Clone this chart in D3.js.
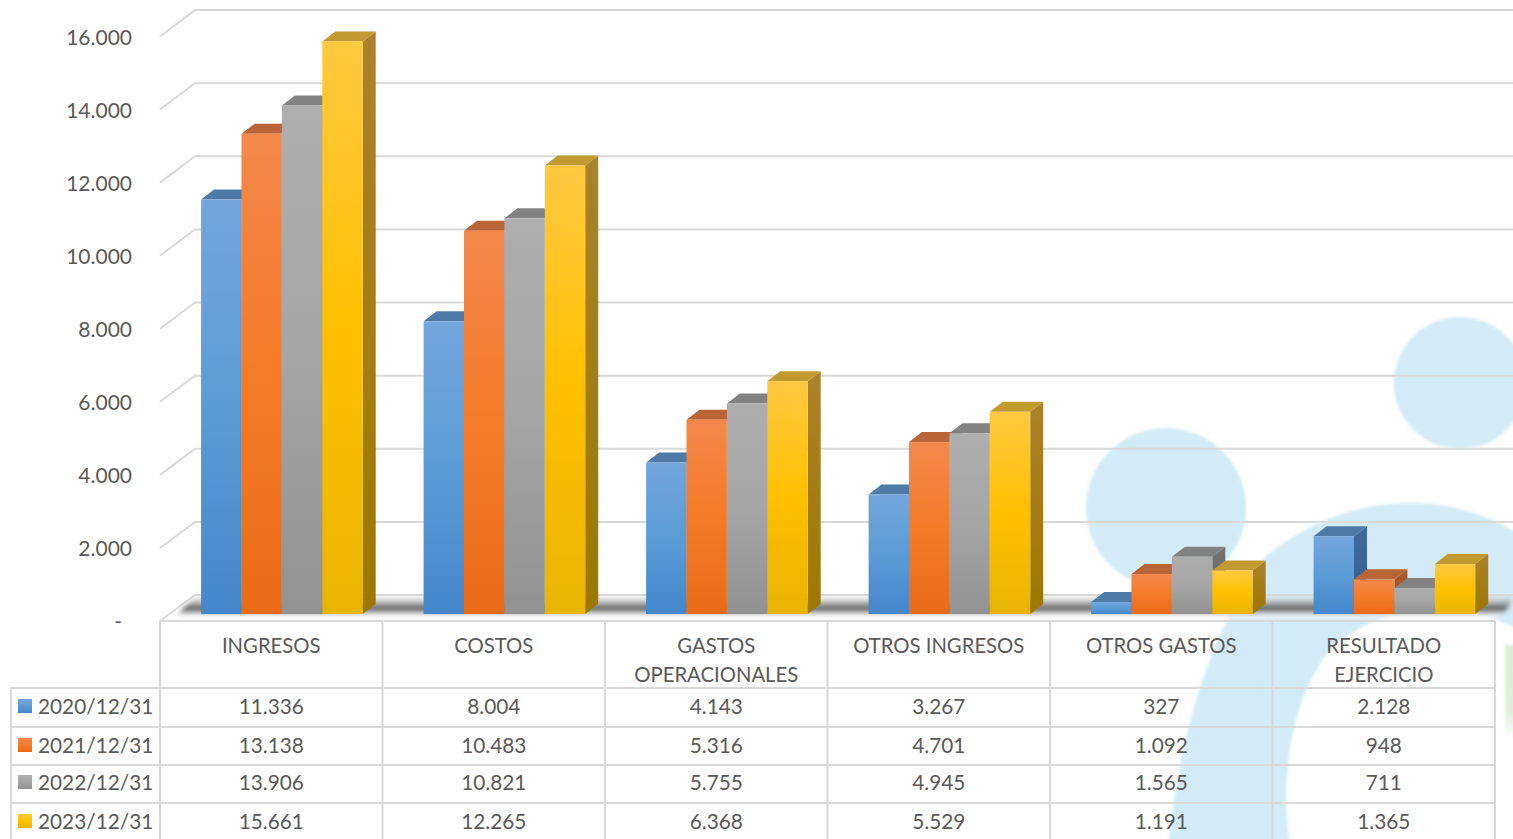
<!DOCTYPE html>
<html><head><meta charset="utf-8">
<script src="https://cdnjs.cloudflare.com/ajax/libs/d3/7.8.5/d3.min.js"></script>
<style>html,body{margin:0;padding:0;background:#fff;overflow:hidden}svg{display:block}text{font-family:Lato,"Open Sans",sans-serif;fill:#595959}</style>
</head><body><svg id="c" width="1513" height="839"></svg>
<script>
const categories=[["INGRESOS"],["COSTOS"],["GASTOS","OPERACIONALES"],["OTROS INGRESOS"],["OTROS GASTOS"],["RESULTADO","EJERCICIO"]];
const seriesNames=["2020/12/31","2021/12/31","2022/12/31","2023/12/31"];
const v2020=[11336,8004,4143,3267,327,2128];
const v2021=[13138,10483,5316,4701,1092,948];
const v2022=[13906,10821,5755,4945,1565,711];
const v2023=[15661,12265,6368,5529,1191,1365];
const seriesValues=[v2020,v2021,v2022,v2023];
const yTicks=[0,2000,4000,6000,8000,10000,12000,14000,16000];
const frontStops=[["#74a6dd","#5b9bd5","#4487cb"],["#f4884c","#f47b28","#e96a17"],["#aeaeae","#a5a5a5","#929292"],["#ffc941","#ffc000","#e8b402"]];
const topColors=["#4e7aa8","#ba6538","#828282","#c29a2f"];
const sideColors=[["#3f6c9c","#33608f"],["#ad5a2c","#a04f18"],["#747474","#666666"],["#ab8229","#9c7800"]];

const svg=d3.select("#c");
const loc=d3.formatLocale({decimal:",",thousands:".",grouping:[3],currency:["",""]});
const fmt=v=>v===0?"-":loc.format(",d")(v);

const tableLeft=160,tableRight=1495;
const x0=d3.scaleBand().domain(d3.range(categories.length)).range([tableLeft,tableRight]);
const barW=40.4;
const xBar=i=>x0(i)+41.1;
const yFront=d3.scaleLinear().domain([0,16000]).range([621,36.5]);
const yBack=d3.scaleLinear().domain([0,16000]).range([595,10]);
const yBar=d3.scaleLinear().domain([0,16000]).range([614,29]);
const dX=13,dY=10;
const wallX0=160,wallX1=195;

const defs=svg.append("defs");
frontStops.forEach((s,i)=>{
  const g=defs.append("linearGradient").attr("id","f"+i).attr("x1",0).attr("y1",0).attr("x2",0).attr("y2",1);
  s.forEach((c,k)=>g.append("stop").attr("offset",k/2).attr("stop-color",c));
  const h=defs.append("linearGradient").attr("id","s"+i).attr("x1",0).attr("y1",0).attr("x2",0).attr("y2",1);
  sideColors[i].forEach((c,k)=>h.append("stop").attr("offset",k).attr("stop-color",c));
});
const fl=defs.append("linearGradient").attr("id","floor").attr("x1",0).attr("y1",0).attr("x2",0).attr("y2",1);
[[0,"#dddddd",0.5],[0.25,"#a8a8a8",0.8],[0.52,"#505050",0.95],[0.72,"#b0b0b0",0.8],[0.85,"#f4f4f4",0.8],[1,"#ffffff",0.5]].forEach(d=>fl.append("stop").attr("offset",d[0]).attr("stop-color",d[1]).attr("stop-opacity",d[2]));
const gb=defs.append("linearGradient").attr("id","greenbar").attr("x1",0).attr("y1",0).attr("x2",0).attr("y2",1);
[[0,0.9],[0.7,0.8],[1,0]].forEach(d=>gb.append("stop").attr("offset",d[0]).attr("stop-color","#d8ead2").attr("stop-opacity",d[1]));
defs.append("filter").attr("id","soft").append("feGaussianBlur").attr("stdDeviation",1.9);
defs.append("filter").attr("id","wmsoft").append("feGaussianBlur").attr("stdDeviation",1.5);

// watermark
const wm=svg.append("g").attr("fill","#d2ebf6").attr("filter","url(#wmsoft)");
wm.append("circle").attr("cx",1166).attr("cy",508).attr("r",80);
wm.append("circle").attr("cx",1460).attr("cy",383).attr("r",66);
wm.append("path").attr("d","M1168,845 C1180,740 1205,640 1265,557 C1310,520 1360,503 1410,503 C1450,503 1490,515 1520,535 L1520,630 L1470,608 C1420,605 1365,615 1330,650 C1290,700 1280,780 1290,845 Z");
wm.append("rect").attr("x",1505).attr("y",645).attr("width",12).attr("height",95).attr("fill","url(#greenbar)");

// walls
const grid=svg.append("g").attr("fill","none").attr("stroke","#d9d9d9").attr("stroke-width",2);
yTicks.forEach(t=>{
  grid.append("path").attr("d",d3.line()([[wallX0,yFront(t)],[wallX1,yBack(t)],[1513,yBack(t)]]));
});
// floor
svg.append("path").attr("d",d3.line()([[wallX0+12,619],[wallX1,597],[1510,597],[1513,600],[1500,619]])).attr("fill","url(#floor)").attr("filter","url(#soft)");

// y labels
svg.append("g").selectAll("text").data(yTicks).join("text")
  .attr("x",t=>t===0?122:132).attr("y",t=>yFront(t)+8).attr("text-anchor","end").attr("font-size",21).text(fmt);

// bars
const bars=svg.append("g");
categories.forEach((c,ci)=>{
  const gx=d3.scaleLinear().domain([0,1]).range([xBar(ci),xBar(ci)+barW]);
  seriesValues.forEach((vals,si)=>{
    const v=vals[ci], l=gx(si), r=gx(si+1), t=yBar(v), b=yBar(0);
    const g=bars.append("g");
    g.append("path").attr("fill",`url(#s${si})`).attr("d",d3.line()([[r,t],[r+dX,t-dY],[r+dX,b-dY],[r,b]]));
    g.append("path").attr("fill",topColors[si]).attr("d",d3.line()([[l,t],[l+dX,t-dY],[r+dX,t-dY],[r,t]]));
    g.append("rect").attr("x",l).attr("y",t).attr("width",barW).attr("height",b-t).attr("fill",`url(#f${si})`);
  });
});

// table
const rowY=[621,688,727,765,803];
const T=svg.append("g").attr("stroke","#d9d9d9").attr("stroke-width",2).attr("fill","none");
d3.range(categories.length+1).forEach(i=>{
  const x=i<categories.length?x0(i):tableRight;
  T.append("line").attr("x1",x).attr("x2",x).attr("y1",621).attr("y2",839);
});
T.append("line").attr("x1",11).attr("x2",11).attr("y1",688).attr("y2",839);
rowY.forEach((y,i)=>T.append("line").attr("x1",i===0?tableLeft:11).attr("x2",tableRight).attr("y1",y).attr("y2",y));

const tx=svg.append("g");
categories.forEach((c,ci)=>{
  const cx=x0(ci)+x0.bandwidth()/2;
  c.forEach((s,k)=>tx.append("text").attr("x",cx).attr("y",653+k*29).attr("text-anchor","middle").attr("font-size",20.3).text(s));
});
const rowText=[714,753,790,829], swatchY=[699,738,775,814];
seriesNames.forEach((n,si)=>{
  tx.append("rect").attr("x",18).attr("y",swatchY[si]).attr("width",14).attr("height",14).attr("fill",`url(#f${si})`);
  tx.append("text").attr("x",38).attr("y",rowText[si]).attr("font-size",20.8).text(n);
  seriesValues[si].forEach((v,ci)=>tx.append("text").attr("x",x0(ci)+x0.bandwidth()/2).attr("y",rowText[si]).attr("text-anchor","middle").attr("font-size",20.8).text(fmt(v)));
});
</script></body></html>
